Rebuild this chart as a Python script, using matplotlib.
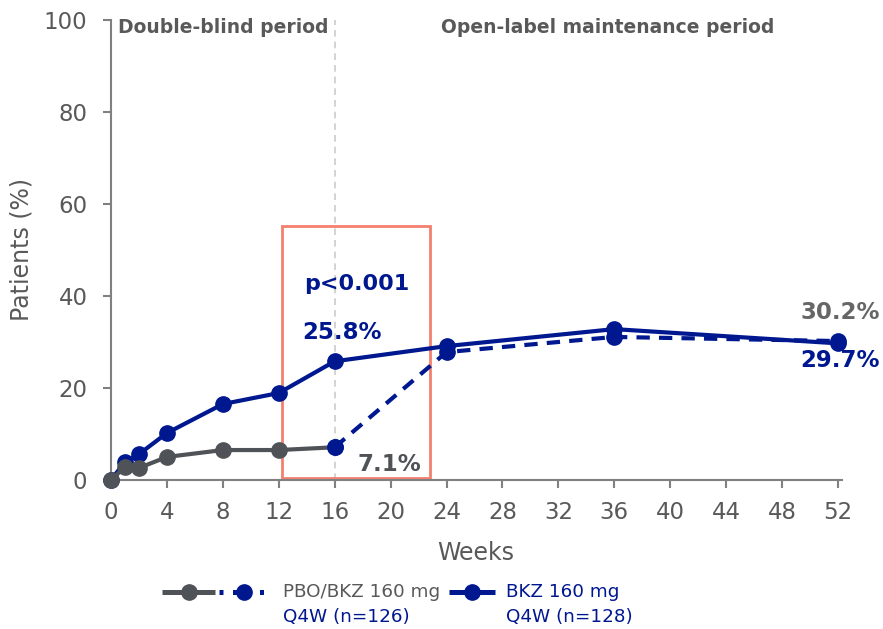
import matplotlib
matplotlib.use("Agg")
import matplotlib.pyplot as plt
from matplotlib.lines import Line2D
from matplotlib.patches import Rectangle

weeks_bkz = [0, 1, 2, 4, 8, 12, 16, 24, 36, 52]
bkz = [0, 3.9, 5.6, 10.2, 16.5, 18.9, 25.8, 29.1, 32.8, 29.7]

weeks_pbo_db = [0, 1, 2, 4, 8, 12]
pbo_db = [0, 2.8, 2.6, 5.0, 6.5, 6.5]
weeks_pbo_wk16 = [12, 16]
pbo_wk16 = [6.5, 7.1]
weeks_pbo_ol = [16, 24, 36, 52]
pbo_ol = [7.1, 27.8, 31.1, 30.2]

xticks = list(range(0, 53, 4))
yticks = [0, 20, 40, 60, 80, 100]

NAVY = "#00188F"
GREY = "#4F5357"
TXT = "#595959"
SALMON = "#F4806F"

fig = plt.figure(figsize=(8.83, 6.29), dpi=100)
ax = fig.add_axes([0.1257, 0.237, 0.8233, 0.731])

ax.axvline(16, color="#cccccc", lw=1.2, ls=(0, (4, 3)), zorder=1)

LW, MS = 3.0, 11
ax.plot(weeks_bkz, bkz, color=NAVY, lw=LW, marker="o", ms=MS, zorder=3, clip_on=False)
ax.plot(weeks_pbo_ol, pbo_ol, color=NAVY, lw=LW, ls=(0, (3.2, 2.2)),
        marker="o", ms=MS, zorder=3, clip_on=False)
ax.plot(weeks_pbo_wk16, pbo_wk16, color=GREY, lw=LW, zorder=4, clip_on=False)
ax.plot(weeks_pbo_db, pbo_db, color=GREY, lw=LW, marker="o", ms=MS, zorder=4, clip_on=False)
ax.plot([16], [7.1], color=NAVY, marker="o", ms=MS, zorder=5, clip_on=False)

ax.add_patch(Rectangle((12.2, 0.4), 10.6, 54.8, fill=False, ec=SALMON, lw=2, zorder=2))

ax.set_xlim(0, 52)
ax.set_ylim(0, 100)
ax.set_xticks(xticks)
ax.set_yticks(yticks)
for s in ["top", "right"]:
    ax.spines[s].set_visible(False)
for s in ["left", "bottom"]:
    ax.spines[s].set_color("#808080")
    ax.spines[s].set_linewidth(1.5)
ax.spines["bottom"].set_bounds(0, 52.3)
ax.tick_params(colors="#808080", labelcolor="#595959", labelsize=16.5, length=6, width=1.5)
ax.tick_params(axis="x", pad=9)
ax.tick_params(axis="y", pad=11)
for sp in ax.spines.values():
    sp.set_clip_on(False)

W, H = 883, 629
def fx(px): return px / W
def fy(py): return 1 - py / H

fig.text(fx(476), fy(553), "Weeks", fontsize=17, color="#595959", ha="center", va="center")
fig.text(fx(22), fy(250), "Patients (%)", fontsize=17, color="#595959", ha="center", va="center", rotation=90)

ax.text(0.5, 98.5, "Double-blind period", fontsize=13.5, fontweight="bold", color=TXT, va="center", ha="left")
ax.text(23.6, 98.5, "Open-label maintenance period", fontsize=13.5, fontweight="bold", color=TXT, va="center", ha="left")
ax.text(17.6, 42.6, "p<0.001", fontsize=16, fontweight="bold", color=NAVY, ha="center", va="center")
ax.text(16.5, 32.0, "25.8%", fontsize=16.5, fontweight="bold", color=NAVY, ha="center", va="center")
ax.text(17.6, 3.3, "7.1%", fontsize=16.5, fontweight="bold", color=GREY, ha="left", va="center")
ax.text(55.0, 36.5, "30.2%", fontsize=16.5, fontweight="bold", color="#666666", ha="right", va="center")
ax.text(55.0, 25.9, "29.7%", fontsize=16.5, fontweight="bold", color=NAVY, ha="right", va="center")

ly = fy(592)
fig.add_artist(Line2D([fx(162), fx(215)], [ly, ly], color=GREY, lw=3.6, solid_capstyle="butt"))
fig.add_artist(Line2D([fx(189)], [ly], color=GREY, marker="o", ms=11))
fig.add_artist(Line2D([fx(219), fx(272)], [ly, ly], color=NAVY, lw=3.6, ls=(0, (0.8, 1.9)),
                      dash_capstyle="butt"))
fig.add_artist(Line2D([fx(244)], [ly], color=NAVY, marker="o", ms=11))
fig.text(fx(283), ly, "PBO/BKZ 160 mg", fontsize=13.2, color="#595959", va="center", ha="left")
fig.text(fx(283), fy(617), "Q4W (n=126)", fontsize=13.2, color=NAVY, va="center", ha="left")

fig.add_artist(Line2D([fx(449), fx(495)], [ly, ly], color=NAVY, lw=3.6, solid_capstyle="butt"))
fig.add_artist(Line2D([fx(472)], [ly], color=NAVY, marker="o", ms=11))
fig.text(fx(506), ly, "BKZ 160 mg", fontsize=13.2, color=NAVY, va="center", ha="left")
fig.text(fx(506), fy(617), "Q4W (n=128)", fontsize=13.2, color=NAVY, va="center", ha="left")

fig.savefig("out.png", dpi=100)
